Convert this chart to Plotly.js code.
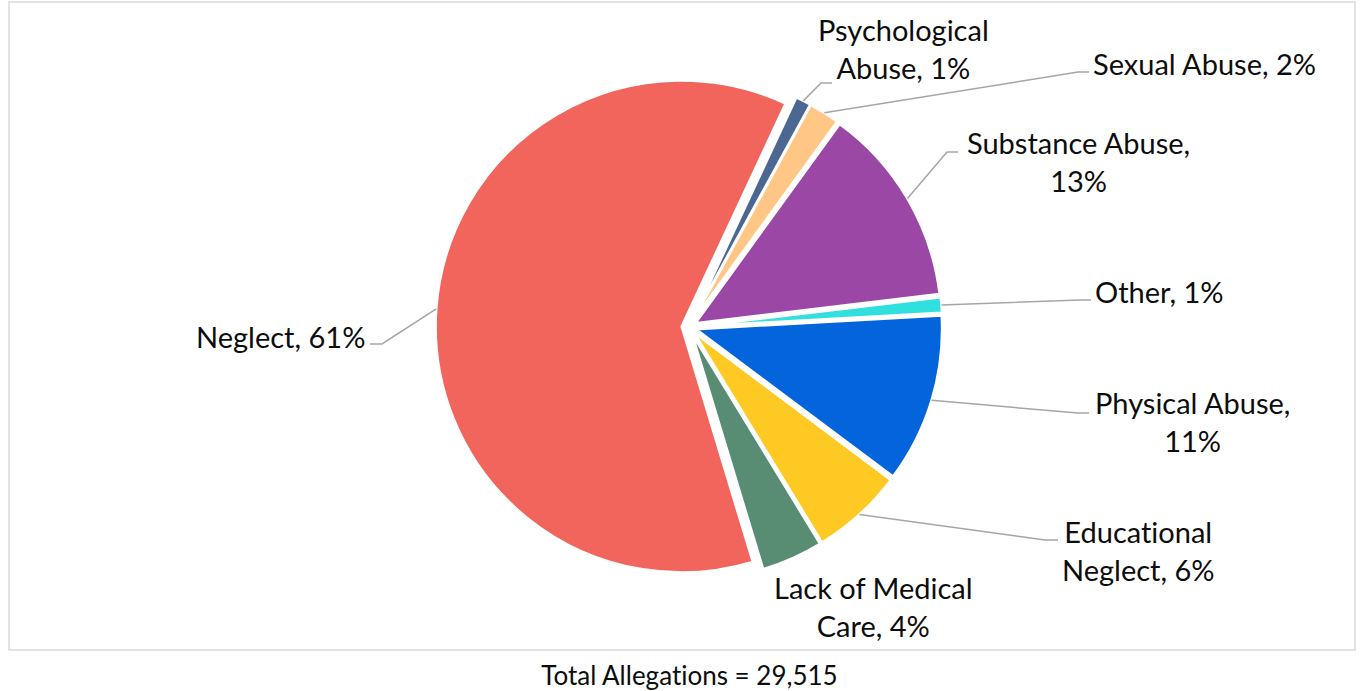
<!DOCTYPE html>
<html><head><meta charset="utf-8">
<script src="https://cdn.plot.ly/plotly-3.0.1.min.js"></script>
<style>html,body{margin:0;padding:0;background:#fff;} #chart{width:1362px;height:691px;} #chart text{font-variant-ligatures:none;font-feature-settings:"liga" 0;}</style>
</head><body><div id="chart"></div>
<script>
// ---- data ----
const categories = ["Psychological Abuse","Sexual Abuse","Substance Abuse","Other","Physical Abuse","Educational Neglect","Lack of Medical Care","Neglect"];
const percentValues = [1, 2, 13, 1, 11, 6, 4, 61];
const totalAllegations = "29,515";
const sliceColors = ["#4A6892","#FFC685","#9A47A5","#2FE0DE","#0464DB","#FFC924","#588D74","#F1655D"];

// ---- layout helpers (positions / styles) ----
const W = 1362, H = 691;
const rotationDeg = 25;
const pullFrac = 0.03;
const breakAfterWord = [1, 0, 2, 0, 2, 1, 3, 0];
// label anchor positions in pixels
const labelPos = [
  {x:903, y:49, xa:'center'},
  {x:1091, y:63, xa:'left'},
  {x:1078, y:162, xa:'center'},
  {x:1093, y:291, xa:'left'},
  {x:1192, y:422, xa:'center'},
  {x:1138, y:550, xa:'center'},
  {x:873, y:606, xa:'center'},
  {x:367, y:336, xa:'right'}
];
// leader elbow + end points in pixels (null = no leader)
const leaderPts = [
  [[821,83],[832,83]],
  [[1078,72],[1089,72]],
  [[947,152],[958,152]],
  [[1080,300],[1091,300]],
  [[1078,413],[1089,413]],
  [[1045,540],[1058,540]],
  null,
  [[382,344],[370,344]]
];

const domX = [339/W, 1039/W];
const domY = [1-580.4/H, 1-73.6/H];

const px = x => x / W;
const py = y => 1 - y / H;

function labelText(i){
  const words = (categories[i] + ", " + percentValues[i] + "%").split(" ");
  const n = breakAfterWord[i];
  if(!n) return words.join(" ");
  return words.slice(0,n).join(" ") + "<br>" + words.slice(n).join(" ");
}

// pie geometry (same rule plotly uses)
const availW = W*(domX[1]-domX[0]), availH = H*(domY[1]-domY[0]);
const r = Math.min(availW/2, availH/2)/(1+pullFrac);
const cx = W*(domX[0]+domX[1])/2;
const cy = H*(1-domY[0]) - availH/2;
const total = percentValues.reduce((a,b)=>a+b,0);

const annotations = [];
const shapes = [];
let cum = 0;
percentValues.forEach((v,i)=>{
  const mid = (rotationDeg + (cum + v/2)/total*360) * Math.PI/180;
  cum += v;
  const D = r*(1+pullFrac);
  const sx = cx + D*Math.sin(mid), sy = cy - D*Math.cos(mid);
  const lp = labelPos[i];
  annotations.push({
    xref:'paper', yref:'paper', x:px(lp.x), y:py(lp.y),
    xanchor: lp.xa, yanchor:'middle', align:'center',
    text: labelText(i), showarrow:false,
    font:{family:'Lato, "Open Sans", sans-serif', size:29, color:'#0D0D0D'}
  });
  const lpts = leaderPts[i];
  if(lpts){
    shapes.push({
      type:'path', xref:'paper', yref:'paper',
      path:`M ${px(sx)},${py(sy)} L ${px(lpts[0][0])},${py(lpts[0][1])} L ${px(lpts[1][0])},${py(lpts[1][1])}`,
      line:{color:'#A6A6A6', width:1.5}
    });
  }
});

annotations.push({
  xref:'paper', yref:'paper', x:px(689), y:py(675), xanchor:'center', yanchor:'middle',
  text:'Total Allegations = ' + totalAllegations, showarrow:false,
  font:{family:'Lato, "Open Sans", sans-serif', size:26, color:'#0D0D0D'}
});

shapes.push({type:'rect', xref:'paper', yref:'paper', x0:px(9), x1:px(1355), y0:py(650), y1:py(2),
  line:{color:'#D9D9D9', width:1.5}, fillcolor:'rgba(0,0,0,0)', layer:'below'});

const trace = {
  type:'pie',
  labels: categories,
  values: percentValues,
  sort:false,
  direction:'clockwise',
  rotation: rotationDeg,
  pull: percentValues.map(()=>pullFrac),
  marker:{colors: sliceColors, line:{color:'#FFFFFF', width:2.5}},
  textinfo:'none',
  hoverinfo:'label+percent',
  domain:{x:domX, y:domY},
  showlegend:false
};

const layout = {
  width:W, height:H,
  margin:{l:0,r:0,t:0,b:0},
  paper_bgcolor:'#FFFFFF',
  showlegend:false,
  annotations, shapes
};

Plotly.newPlot('chart', [trace], layout, {displayModeBar:false, staticPlot:true});
</script>
</body></html>
